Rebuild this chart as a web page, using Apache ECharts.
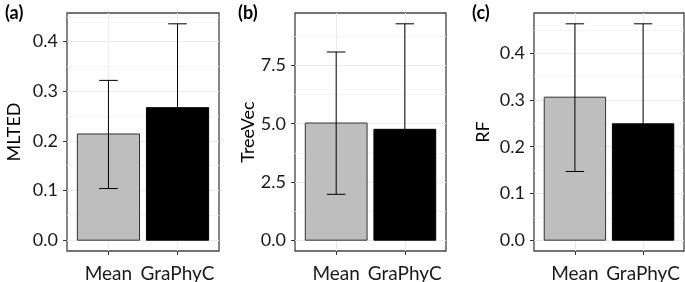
<!DOCTYPE html>
<html>
<head>
<meta charset="utf-8">
<script src="https://cdn.jsdelivr.net/npm/echarts@6/dist/echarts.min.js"></script>
<style>
  html, body { margin: 0; padding: 0; background: #fff; }
  #chart { width: 685px; height: 282px; }
</style>
</head>
<body>
<div id="chart"></div>
<script>
// data
var categories = ['Mean', 'GraPhyC'];

var mltedValues = [0.214, 0.267];
var mltedLow = [0.104, 0.098];
var mltedHigh = [0.322, 0.436];
var mltedTicks = [0, 0.1, 0.2, 0.3, 0.4];
var mltedMinor = [0.05, 0.15, 0.25, 0.35, 0.45];

var treeVecValues = [5.03, 4.76];
var treeVecLow = [1.97, 0.23];
var treeVecHigh = [8.08, 9.29];
var treeVecTicks = [0, 2.5, 5, 7.5];
var treeVecMinor = [1.25, 3.75, 6.25, 8.75];

var rfValues = [0.306, 0.249];
var rfLow = [0.147, 0.035];
var rfHigh = [0.463, 0.463];
var rfTicks = [0, 0.1, 0.2, 0.3, 0.4];
var rfMinor = [0.05, 0.15, 0.25, 0.35, 0.45];

var barFills = ['#bebebe', '#000000'];
var barStrokes = ['#333333', '#000000'];
var FONT = 'Lato';

var panels = [
  { tag: '(a)', tagLeft: 0, name: 'MLTED', values: mltedValues, low: mltedLow, high: mltedHigh,
    ticks: mltedTicks, minor: mltedMinor, left: 67, right: 466, nameGap: 44 },
  { tag: '(b)', tagLeft: 233, name: 'TreeVec', values: treeVecValues, low: treeVecLow, high: treeVecHigh,
    ticks: treeVecTicks, minor: treeVecMinor, left: 295, right: 239, nameGap: 37 },
  { tag: '(c)', tagLeft: 467, name: 'RF', values: rfValues, low: rfLow, high: rfHigh,
    ticks: rfTicks, minor: rfMinor, left: 534, right: 1, nameGap: 42 }
];

function renderBar(params, api) {
  var x = api.value(0), y = api.value(1);
  var p0 = api.coord([x - 0.45, y]);
  var p1 = api.coord([x + 0.45, 0]);
  return {
    type: 'rect',
    shape: { x: p0[0], y: p0[1], width: p1[0] - p0[0], height: p1[1] - p0[1] },
    style: { fill: barFills[params.dataIndex], stroke: barStrokes[params.dataIndex], lineWidth: 1 }
  };
}

function renderErr(params, api) {
  var x = api.value(0), lo = api.value(2), hi = api.value(3);
  var top = api.coord([x, hi]);
  var bot = api.coord([x, lo]);
  var capL = api.coord([x - 0.135, hi])[0];
  var capR = api.coord([x + 0.135, hi])[0];
  var st = { stroke: '#000', lineWidth: 1 };
  return {
    type: 'group',
    children: [
      { type: 'line', shape: { x1: top[0], y1: top[1], x2: bot[0], y2: bot[1] }, style: st },
      { type: 'line', shape: { x1: capL, y1: top[1], x2: capR, y2: top[1] }, style: st },
      { type: 'line', shape: { x1: capL, y1: bot[1], x2: capR, y2: bot[1] }, style: st }
    ]
  };
}

var option = {
  backgroundColor: '#fff',
  animation: false,
  title: [],
  grid: [],
  xAxis: [],
  yAxis: [],
  series: []
};

panels.forEach(function (p, i) {
  var lo = Math.min(0, Math.min.apply(null, p.low));
  var hi = Math.max.apply(null, p.high);
  var pad = (hi - lo) * 0.05;

  option.title.push({
    text: p.tag, left: p.tagLeft, top: -1,
    textStyle: { fontFamily: FONT, fontSize: 18, fontWeight: 'bold', color: '#000' }
  });

  option.grid.push({
    left: p.left, right: p.right, top: 13, bottom: 31,
    outerBoundsMode: 'none', containLabel: false,
    show: true, borderColor: '#444', borderWidth: 1.3, backgroundColor: '#fff'
  });

  option.xAxis.push({
    type: 'value', gridIndex: i, min: 0.4, max: 2.6,
    axisLine: { show: false, onZero: false },
    axisTick: { show: true, length: 4, customValues: [1, 2], lineStyle: { color: '#333', width: 1 } },
    axisLabel: {
      customValues: [1, 2], margin: 13, color: '#1a1a1a', fontFamily: FONT, fontSize: 19,
      formatter: function (v) { return categories[Math.round(v) - 1]; }
    },
    splitLine: { show: true, lineStyle: { color: '#ebebeb', width: 1 } }
  });

  // major axis
  option.yAxis.push({
    type: 'value', gridIndex: i, min: lo - pad, max: hi + pad,
    name: p.name, nameLocation: 'middle', nameGap: p.nameGap,
    nameTextStyle: { fontFamily: FONT, fontSize: 18, color: '#000' },
    axisLine: { show: false },
    axisTick: { show: true, length: 4, customValues: p.ticks, lineStyle: { color: '#333', width: 1 } },
    axisLabel: {
      customValues: p.ticks, margin: 9, color: '#1a1a1a', fontFamily: FONT, fontSize: 18,
      formatter: function (v) { return v.toFixed(1); }
    },
    splitLine: { show: true, lineStyle: { color: '#ebebeb', width: 1 } }
  });
  // minor gridlines
  option.yAxis.push({
    type: 'value', gridIndex: i, min: lo - pad, max: hi + pad, position: 'right',
    axisLine: { show: false },
    axisTick: { show: false, customValues: p.minor },
    axisLabel: { show: false },
    splitLine: { show: true, lineStyle: { color: '#f2f2f2', width: 0.8 } }
  });

  var rows = categories.map(function (c, k) {
    return [k + 1, p.values[k], p.low[k], p.high[k]];
  });

  option.series.push({
    type: 'custom', xAxisIndex: i, yAxisIndex: 2 * i, renderItem: renderBar,
    data: rows, z: 2
  });
  option.series.push({
    type: 'custom', xAxisIndex: i, yAxisIndex: 2 * i, renderItem: renderErr,
    data: rows, z: 3
  });
});

var myChart = echarts.init(document.getElementById('chart'));
myChart.setOption(option);
</script>
</body>
</html>
